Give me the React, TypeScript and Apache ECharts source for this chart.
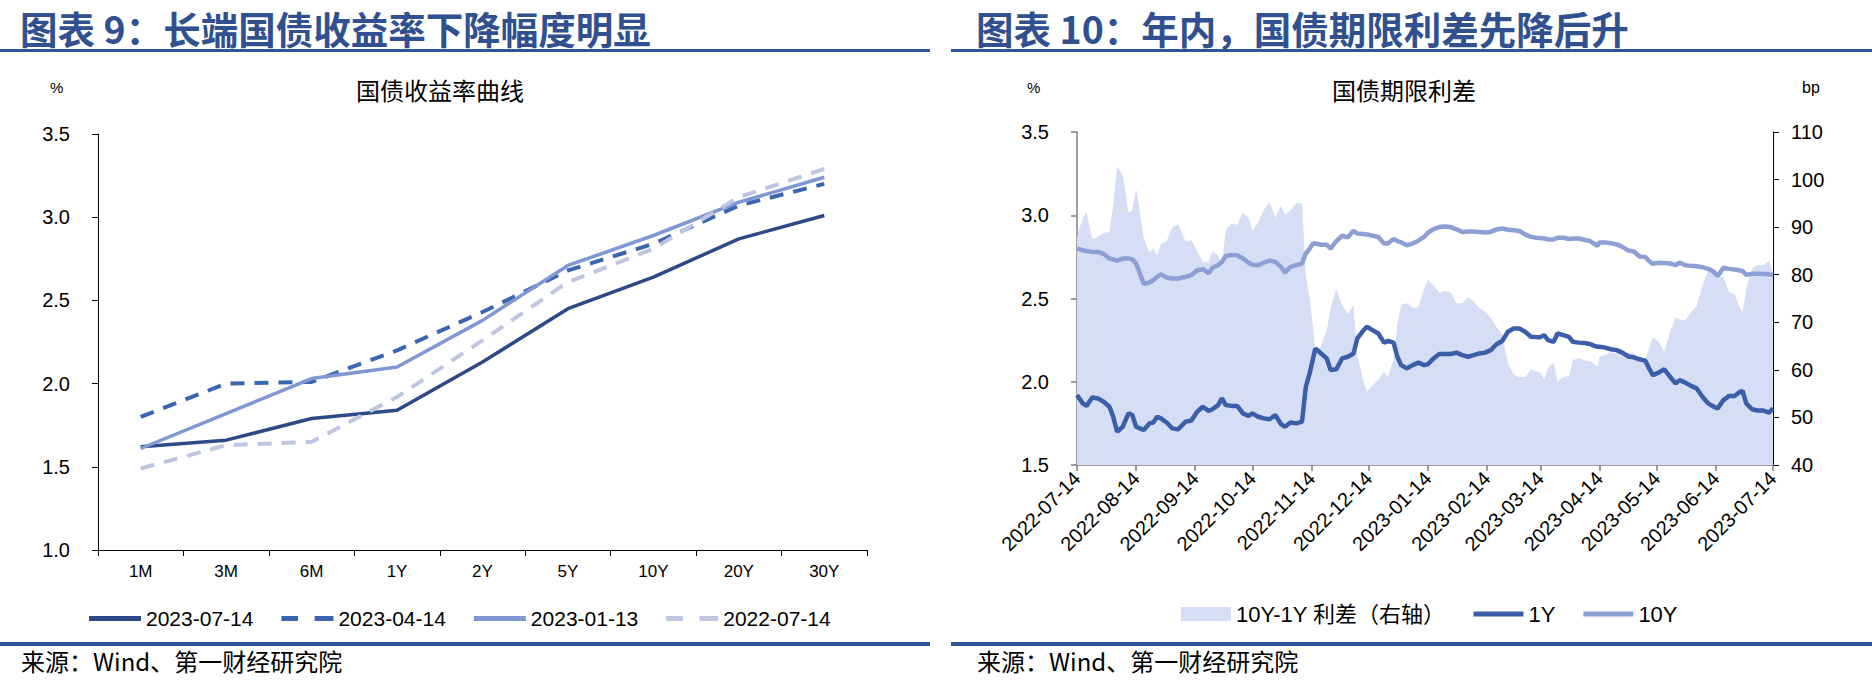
import React, { useEffect, useRef } from 'react';
import * as echarts from 'echarts';

// ---------- Left chart: yield curve ----------
const curveCategories = ['1M', '3M', '6M', '1Y', '2Y', '5Y', '10Y', '20Y', '30Y'];
const curve20230714 = [1.62, 1.66, 1.79, 1.84, 2.13, 2.45, 2.64, 2.87, 3.01];
const curve20230414 = [1.80, 2.00, 2.01, 2.20, 2.43, 2.68, 2.84, 3.07, 3.20];
const curve20230113 = [1.61, 1.82, 2.03, 2.10, 2.38, 2.71, 2.89, 3.09, 3.24];
const curve20220714 = [1.49, 1.63, 1.65, 1.92, 2.26, 2.61, 2.81, 3.12, 3.29];

// ---------- Right chart: term spread ----------
const spreadDates = [
  '2022-07-14', '2022-07-17', '2022-07-19', '2022-07-22', '2022-07-25', '2022-07-28', '2022-07-31',
  '2022-08-02', '2022-08-04', '2022-08-07', '2022-08-10', '2022-08-12', '2022-08-14', '2022-08-16',
  '2022-08-18', '2022-08-21', '2022-08-23', '2022-08-25', '2022-08-27', '2022-08-30', '2022-09-02',
  '2022-09-05', '2022-09-09', '2022-09-12', '2022-09-15', '2022-09-18', '2022-09-21', '2022-09-23',
  '2022-09-26', '2022-09-28', '2022-09-30', '2022-10-03', '2022-10-06', '2022-10-09', '2022-10-12',
  '2022-10-14', '2022-10-17', '2022-10-20', '2022-10-23', '2022-10-26', '2022-10-29', '2022-10-31',
  '2022-11-03', '2022-11-06', '2022-11-09', '2022-11-11', '2022-11-13', '2022-11-15', '2022-11-16',
  '2022-11-19', '2022-11-22', '2022-11-24', '2022-11-27', '2022-11-30', '2022-12-03', '2022-12-06',
  '2022-12-08', '2022-12-11', '2022-12-13', '2022-12-16', '2022-12-19', '2022-12-22', '2022-12-24',
  '2022-12-27', '2022-12-29', '2022-12-31', '2023-01-03', '2023-01-06', '2023-01-09', '2023-01-12',
  '2023-01-14', '2023-01-17', '2023-01-20', '2023-01-23', '2023-01-26', '2023-01-29', '2023-02-01',
  '2023-02-04', '2023-02-07', '2023-02-10', '2023-02-13', '2023-02-16', '2023-02-19', '2023-02-22',
  '2023-02-25', '2023-02-28', '2023-03-03', '2023-03-06', '2023-03-09', '2023-03-12', '2023-03-14',
  '2023-03-16', '2023-03-18', '2023-03-21', '2023-03-23', '2023-03-26', '2023-03-29', '2023-03-31',
  '2023-04-03', '2023-04-06', '2023-04-09', '2023-04-11', '2023-04-13', '2023-04-14', '2023-04-17',
  '2023-04-20', '2023-04-23', '2023-04-26', '2023-04-29', '2023-05-02', '2023-05-05', '2023-05-08',
  '2023-05-10', '2023-05-12', '2023-05-15', '2023-05-18', '2023-05-21', '2023-05-24', '2023-05-26',
  '2023-05-29', '2023-06-01', '2023-06-04', '2023-06-07', '2023-06-10', '2023-06-13', '2023-06-15',
  '2023-06-18', '2023-06-21', '2023-06-24', '2023-06-26', '2023-06-28', '2023-06-30', '2023-07-03',
  '2023-07-06', '2023-07-09', '2023-07-12', '2023-07-14',
];
const yield1Y = [
  1.92, 1.87, 1.855, 1.905, 1.90, 1.88, 1.85,
  1.79, 1.70, 1.73, 1.81, 1.80, 1.73, 1.72,
  1.71, 1.75, 1.755, 1.79, 1.78, 1.755, 1.72,
  1.714, 1.76, 1.767, 1.82, 1.85, 1.825, 1.835,
  1.86, 1.90, 1.86, 1.855, 1.855, 1.81, 1.795,
  1.81, 1.79, 1.78, 1.775, 1.80, 1.745, 1.73,
  1.755, 1.75, 1.76, 1.97, 2.05, 2.15, 2.20,
  2.17, 2.14, 2.07, 2.075, 2.14, 2.15, 2.17,
  2.26, 2.306, 2.33, 2.31, 2.29, 2.235, 2.245,
  2.235, 2.15, 2.10, 2.08, 2.10, 2.115, 2.10,
  2.105, 2.14, 2.167, 2.167, 2.167, 2.175, 2.16,
  2.15, 2.16, 2.17, 2.175, 2.19, 2.225, 2.245,
  2.30, 2.32, 2.32, 2.30, 2.27, 2.268, 2.268,
  2.28, 2.25, 2.24, 2.29, 2.28, 2.27, 2.24,
  2.235, 2.233, 2.227, 2.217, 2.21, 2.21, 2.205,
  2.195, 2.19, 2.175, 2.152, 2.147, 2.135, 2.127,
  2.08, 2.04, 2.055, 2.075, 2.03, 1.99, 2.01,
  1.995, 1.975, 1.96, 1.91, 1.87, 1.85, 1.84,
  1.89, 1.915, 1.915, 1.935, 1.945, 1.87, 1.835,
  1.827, 1.827, 1.815, 1.84,
];
const yield10Y = [
  2.80, 2.79, 2.785, 2.78, 2.78, 2.768, 2.74,
  2.735, 2.727, 2.74, 2.74, 2.735, 2.71, 2.65,
  2.588, 2.596, 2.61, 2.63, 2.645, 2.626, 2.62,
  2.62, 2.63, 2.64, 2.67, 2.676, 2.652, 2.685,
  2.70, 2.72, 2.755, 2.762, 2.76, 2.74, 2.715,
  2.702, 2.70, 2.716, 2.728, 2.72, 2.69, 2.656,
  2.69, 2.70, 2.71, 2.77, 2.80, 2.833, 2.83,
  2.823, 2.823, 2.80, 2.845, 2.877, 2.867, 2.907,
  2.89, 2.887, 2.885, 2.877, 2.869, 2.83, 2.83,
  2.857, 2.845, 2.837, 2.82, 2.83, 2.847, 2.87,
  2.895, 2.917, 2.929, 2.933, 2.929, 2.915, 2.90,
  2.903, 2.903, 2.90, 2.897, 2.90, 2.915, 2.92,
  2.913, 2.91, 2.905, 2.885, 2.87, 2.865, 2.863,
  2.86, 2.855, 2.855, 2.865, 2.865, 2.857, 2.86,
  2.86, 2.853, 2.845, 2.83, 2.817, 2.837, 2.837,
  2.832, 2.825, 2.81, 2.789, 2.782, 2.752, 2.75,
  2.725, 2.708, 2.715, 2.713, 2.71, 2.70, 2.716,
  2.70, 2.696, 2.694, 2.688, 2.678, 2.66, 2.635,
  2.685, 2.678, 2.674, 2.67, 2.665, 2.642, 2.648,
  2.648, 2.647, 2.645, 2.642,
];
const spreadTickDates = [
  '2022-07-14', '2022-08-14', '2022-09-14', '2022-10-14', '2022-11-14', '2022-12-14', '2023-01-14',
  '2023-02-14', '2023-03-14', '2023-04-14', '2023-05-14', '2023-06-14', '2023-07-14',
];

const CJK = '"Noto Sans CJK SC", "Noto Sans", sans-serif';
const LATIN = '"Liberation Sans", "Noto Sans CJK SC", sans-serif';
const TITLE_BLUE = '#30508f';
const RULE_BLUE = '#2f5597';
const AREA = '#d5def4';
const ICON_SOLID = 'path://M0,0H50V5H0Z';
const ICON_DASH = 'path://M0,0H16V5H0Z M32,0H50V5H32Z';

const toTs = (s: string) => {
  const [y, m, d] = s.split('-').map(Number);
  return Date.UTC(y, m - 1, d);
};
const fmtDate = (v: number) => {
  const d = new Date(v);
  const mm = String(d.getUTCMonth() + 1).padStart(2, '0');
  const dd = String(d.getUTCDate()).padStart(2, '0');
  return `${d.getUTCFullYear()}-${mm}-${dd}`;
};

export default function App() {
  const ref = useRef<HTMLDivElement>(null);
  useEffect(() => {
    if (!ref.current) return;
    const chart = echarts.init(ref.current, null, { renderer: 'svg' });
    const tickTs = spreadTickDates.map(toTs);
    const line1Y = spreadDates.map((d, i) => [toTs(d), yield1Y[i]]);
    const line10Y = spreadDates.map((d, i) => [toTs(d), yield10Y[i]]);
    const spreadBp = spreadDates.map((d, i) => [toTs(d), Math.round((yield10Y[i] - yield1Y[i]) * 1000) / 10]);

    const plainText = (text: string, left: number, top: number, fontSize: number, extra: any = {}) => ({
      text, left, top, padding: 0,
      textStyle: { fontSize, color: '#000', fontWeight: 'normal', fontFamily: CJK, ...extra },
    });

    const option: any = {
      animation: false,
      backgroundColor: '#fff',
      title: [
        plainText('图表 9：长端国债收益率下降幅度明显', 20, 7, 37.5, { fontWeight: 'bold', color: TITLE_BLUE, lineHeight: 41 }),
        plainText('图表 10：年内，国债期限利差先降后升', 976, 7, 37.5, { fontWeight: 'bold', color: TITLE_BLUE, lineHeight: 41 }),
        plainText('国债收益率曲线', 356, 77, 24),
        plainText('国债期限利差', 1332, 77, 24),
        plainText('%', 50, 80, 15, { fontFamily: LATIN }),
        plainText('%', 1027, 80, 15, { fontFamily: LATIN }),
        plainText('bp', 1802, 79, 16, { fontFamily: LATIN }),
        plainText('来源：Wind、第一财经研究院', 21, 648, 24),
        plainText('来源：Wind、第一财经研究院', 977, 648, 24),
      ],
      graphic: [
        { type: 'rect', shape: { x: 0, y: 49, width: 930, height: 3 }, style: { fill: RULE_BLUE }, silent: true },
        { type: 'rect', shape: { x: 951, y: 49, width: 921, height: 3 }, style: { fill: RULE_BLUE }, silent: true },
        { type: 'rect', shape: { x: 0, y: 642, width: 930, height: 4 }, style: { fill: RULE_BLUE }, silent: true },
        { type: 'rect', shape: { x: 951, y: 642, width: 921, height: 4 }, style: { fill: RULE_BLUE }, silent: true },
      ],
      legend: [
        {
          left: 84, top: 603, itemWidth: 52, itemHeight: 14, itemGap: 28,
          data: [
            { name: '2023-07-14', icon: ICON_SOLID },
            { name: '2023-04-14', icon: ICON_DASH },
            { name: '2023-01-13', icon: ICON_SOLID },
            { name: '2022-07-14', icon: ICON_DASH },
          ],
          textStyle: { fontSize: 21, color: '#000', fontFamily: LATIN },
        },
        {
          left: 1176, top: 598, itemWidth: 50, itemHeight: 14, itemGap: 28,
          data: [
            { name: '10Y-1Y 利差（右轴）', icon: 'rect' },
            { name: '1Y', icon: ICON_SOLID },
            { name: '10Y', icon: ICON_SOLID },
          ],
          textStyle: { fontSize: 22, color: '#000', fontFamily: LATIN },
        },
      ],
      grid: [
        { left: 98, top: 134, width: 769, height: 416 },
        { left: 1077, top: 132, width: 696, height: 333 },
      ],
      xAxis: [
        {
          type: 'category', gridIndex: 0, data: curveCategories, boundaryGap: true,
          axisLine: { lineStyle: { color: '#000', width: 1 } },
          axisTick: { show: true, interval: 0, length: 6, lineStyle: { color: '#000' } },
          axisLabel: { fontSize: 17, color: '#000', margin: 13, fontFamily: LATIN },
          splitLine: { show: false },
        },
        {
          type: 'value', gridIndex: 1, min: tickTs[0], max: tickTs[tickTs.length - 1],
          axisLine: { lineStyle: { color: '#7f7f7f', width: 1.5 } },
          axisTick: { show: true, length: 6, customValues: tickTs, lineStyle: { color: '#7f7f7f', width: 1.5 } },
          axisLabel: {
            customValues: tickTs, rotate: 45, fontSize: 20, color: '#000', margin: 10,
            fontFamily: LATIN, formatter: (v: number) => fmtDate(v),
          },
          splitLine: { show: false },
        },
      ],
      yAxis: [
        {
          type: 'value', gridIndex: 0, min: 1, max: 3.5, interval: 0.5,
          axisLine: { show: true, lineStyle: { color: '#000', width: 1 } },
          axisTick: { show: true, length: 6, lineStyle: { color: '#000' } },
          axisLabel: { fontSize: 20, color: '#000', margin: 28, fontFamily: LATIN, formatter: (v: number) => v.toFixed(1) },
          splitLine: { show: false },
        },
        {
          type: 'value', gridIndex: 1, min: 1.5, max: 3.5, interval: 0.5, position: 'left',
          axisLine: { show: true, lineStyle: { color: '#7f7f7f', width: 1.5 } },
          axisTick: { show: true, length: 6, lineStyle: { color: '#7f7f7f', width: 1.5 } },
          axisLabel: { fontSize: 20, color: '#000', margin: 28, fontFamily: LATIN, formatter: (v: number) => v.toFixed(1) },
          splitLine: { show: false },
        },
        {
          type: 'value', gridIndex: 1, min: 40, max: 110, interval: 10, position: 'right',
          axisLine: { show: true, lineStyle: { color: '#000', width: 1 } },
          axisTick: { show: true, length: 6, lineStyle: { color: '#000' } },
          axisLabel: { fontSize: 20, color: '#000', margin: 18, fontFamily: LATIN },
          splitLine: { show: false },
        },
      ],
      series: [
        {
          name: '2023-07-14', type: 'line', xAxisIndex: 0, yAxisIndex: 0, data: curve20230714, symbol: 'none',
          lineStyle: { color: '#2d4a86', width: 3.5 }, itemStyle: { color: '#2d4a86' },
        },
        {
          name: '2023-04-14', type: 'line', xAxisIndex: 0, yAxisIndex: 0, data: curve20230414, symbol: 'none',
          lineStyle: { color: '#3a65b0', width: 4, type: [14, 10] }, itemStyle: { color: '#3a65b0' },
        },
        {
          name: '2023-01-13', type: 'line', xAxisIndex: 0, yAxisIndex: 0, data: curve20230113, symbol: 'none',
          lineStyle: { color: '#7f98d4', width: 3.5 }, itemStyle: { color: '#7f98d4' },
        },
        {
          name: '2022-07-14', type: 'line', xAxisIndex: 0, yAxisIndex: 0, data: curve20220714, symbol: 'none',
          lineStyle: { color: '#bfc6e1', width: 4, type: [14, 10] }, itemStyle: { color: '#bfc6e1' },
        },
        {
          name: '10Y-1Y 利差（右轴）', type: 'line', xAxisIndex: 1, yAxisIndex: 2, data: spreadBp, symbol: 'none',
          lineStyle: { width: 0, color: AREA }, itemStyle: { color: AREA },
          areaStyle: { color: AREA, opacity: 1, origin: 'start' },
        },
        {
          name: '1Y', type: 'line', xAxisIndex: 1, yAxisIndex: 1, data: line1Y, symbol: 'none',
          lineStyle: { color: '#3a5ea8', width: 4.5 }, itemStyle: { color: '#3a5ea8' },
        },
        {
          name: '10Y', type: 'line', xAxisIndex: 1, yAxisIndex: 1, data: line10Y, symbol: 'none',
          lineStyle: { color: '#8d9fd5', width: 4.5 }, itemStyle: { color: '#8d9fd5' },
        },
      ],
    };
    chart.setOption(option);
    return () => chart.dispose();
  }, []);
  return (
    <div
      ref={ref}
      style={{ position: 'absolute', left: 0, top: 0, width: 1872, height: 683, background: '#fff' }}
    />
  );
}
